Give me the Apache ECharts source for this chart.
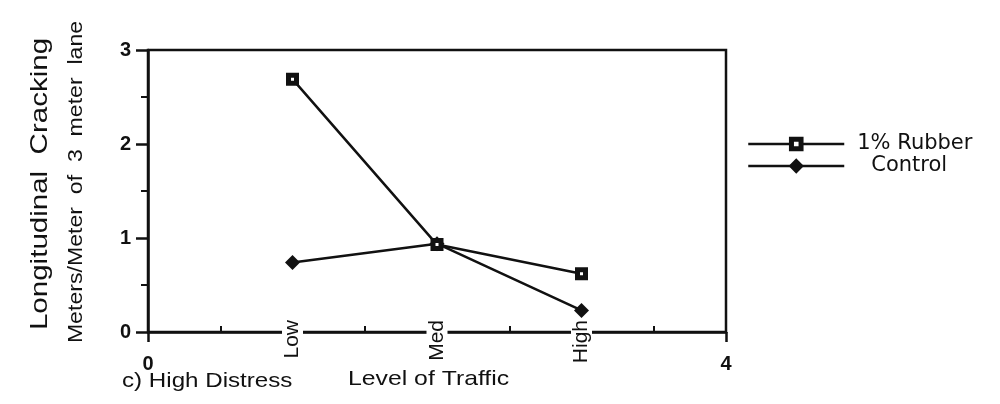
<!DOCTYPE html>
<html>
<head>
<meta charset="utf-8">
<script src="https://cdn.jsdelivr.net/npm/echarts@6/dist/echarts.min.js"></script>
<style>
  html, body { margin: 0; padding: 0; background: #fff; }
  #chart { width: 1000px; height: 404px; }
</style>
</head>
<body>
<div id="chart"></div>
<script>
// Traffic levels placed at x = 1, 2, 3 on a 0..4 axis
const trafficLevels = ['Low', 'Med', 'High'];
const trafficX = [1, 2, 3];
const edgeTicks = [0, 4];

// Longitudinal cracking, meters per meter of 3 meter lane
const rubberValues = [2.69, 0.93, 0.62];
const controlValues = [0.74, 0.94, 0.23];

const seriesNames = ['1% Rubber', 'Control'];

const FONT = '"Liberation Sans", Arial, Helvetica, sans-serif';
const WIDE = '"DejaVu Sans", "Liberation Sans", sans-serif';
const INK = '#111';

const chart = echarts.init(document.getElementById('chart'), null, { renderer: 'canvas' });

const pairs = vals => trafficX.map((x, i) => [x, vals[i]]);

chart.setOption({
  animation: false,
  backgroundColor: '#fff',
  grid: {
    left: 148, right: 274, top: 50, bottom: 72,
    show: true, borderColor: INK, borderWidth: 2.5, backgroundColor: 'transparent'
  },
  legend: {
    orient: 'vertical',
    left: 742, top: 128,
    itemWidth: 96, itemHeight: 12, itemGap: 0,
    lineStyle: { width: 2.5, color: INK },
    data: [
      { name: seriesNames[0], itemStyle: { color: '#fff', borderColor: INK, borderWidth: 5 } },
      { name: seriesNames[1], itemStyle: { color: INK, borderColor: INK, borderWidth: 4 } }
    ],
    textStyle: {
      fontFamily: WIDE, fontSize: 21, color: INK, lineHeight: 22,
      rich: { a: { width: 8 }, b: { width: 22 } }
    },
    formatter: name => (name === 'Control' ? '{b|}' : '{a|}') + name
  },
  xAxis: [
    {
      type: 'value', min: 0, max: 4, interval: 1, position: 'bottom',
      axisLine: { show: true, lineStyle: { color: INK, width: 2.5 } },
      axisTick: { show: true, length: 10, lineStyle: { color: INK, width: 2.5 } },
      minorTick: { show: true, splitNumber: 2, length: -6, lineStyle: { color: INK, width: 2 } },
      splitLine: { show: false },
      axisLabel: {
        margin: 22, fontFamily: FONT, fontSize: 20, fontWeight: 'bold', color: INK,
        formatter: v => edgeTicks.includes(v) ? String(v) : ''
      }
    },
    {
      type: 'value', min: 0, max: 4, interval: 1, position: 'bottom', offset: 0,
      axisLine: { show: false },
      axisTick: { show: false },
      splitLine: { show: false },
      axisLabel: {
        rotate: 90, margin: -15,
        fontFamily: FONT, fontSize: 21, color: INK,
        backgroundColor: '#fff', padding: [0, 3, 0, 3],
        formatter: v => {
          const i = trafficX.indexOf(v);
          return i >= 0 ? trafficLevels[i] : '';
        }
      }
    }
  ],
  yAxis: {
    type: 'value', min: 0, max: 3, interval: 1,
    axisLine: { show: true, lineStyle: { color: INK, width: 2.5 } },
    axisTick: { show: true, length: 12, lineStyle: { color: INK, width: 2.5 } },
    minorTick: { show: true, splitNumber: 2, length: 7, lineStyle: { color: INK, width: 2 } },
    splitLine: { show: false },
    axisLabel: { margin: 17, fontFamily: FONT, fontSize: 20, fontWeight: 'bold', color: INK }
  },
  graphic: [
    {
      type: 'text', x: 40, y: 184, rotation: Math.PI / 2, scaleX: 1.23,
      style: {
        text: 'Longitudinal  Cracking', font: '24px ' + FONT, fill: INK,
        textAlign: 'center', textVerticalAlign: 'middle'
      }
    },
    {
      type: 'text', x: 76, y: 182, rotation: Math.PI / 2, scaleX: 1.1,
      style: {
        text: 'Meters/Meter  of  3  meter  lane', font: '21px ' + FONT, fill: INK,
        textAlign: 'center', textVerticalAlign: 'middle'
      }
    },
    {
      type: 'text', x: 122, y: 381, scaleX: 1.15,
      style: {
        text: 'c) High Distress', font: '21px ' + FONT, fill: INK,
        textAlign: 'left', textVerticalAlign: 'middle'
      }
    },
    {
      type: 'text', x: 348, y: 379, scaleX: 1.18,
      style: {
        text: 'Level of Traffic', font: '21px ' + FONT, fill: INK,
        textAlign: 'left', textVerticalAlign: 'middle'
      }
    }
  ],
  series: [
    {
      name: seriesNames[0], type: 'line', data: pairs(rubberValues),
      lineStyle: { color: INK, width: 2.5 },
      symbol: 'rect', symbolSize: 8,
      itemStyle: { color: '#fff', borderColor: INK, borderWidth: 5 },
      z: 3
    },
    {
      name: seriesNames[1], type: 'line', data: pairs(controlValues),
      lineStyle: { color: INK, width: 2.5 },
      symbol: 'diamond', symbolSize: 15,
      itemStyle: { color: INK, borderColor: INK, borderWidth: 0 },
      z: 2
    }
  ]
});
</script>
</body>
</html>
